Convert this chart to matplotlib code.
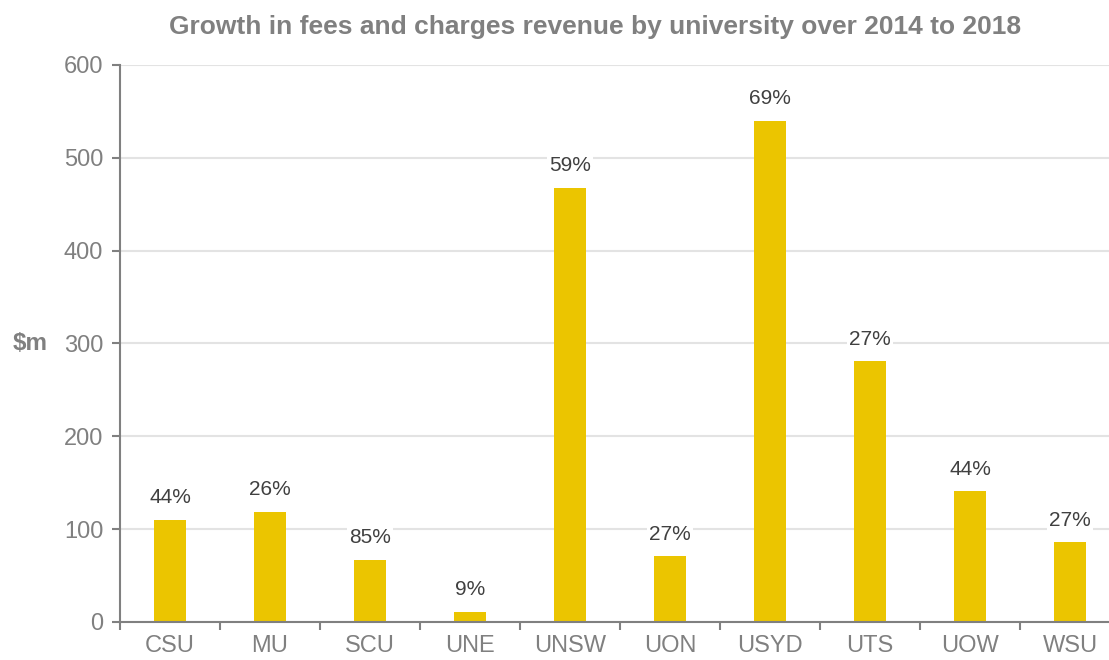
import numpy as np
import matplotlib.pyplot as plt

plt.rcParams['font.family'] = ['Liberation Sans', 'DejaVu Sans']

# Data
universities = ['CSU', 'MU', 'SCU', 'UNE', 'UNSW', 'UON', 'USYD', 'UTS', 'UOW', 'WSU']
growth_m = [110, 119, 67, 11, 468, 71, 540, 281, 141, 86]
growth_pct = ['44%', '26%', '85%', '9%', '59%', '27%', '69%', '27%', '44%', '27%']

bar_color = '#EBC500'
grey = '#808080'

fig = plt.figure(figsize=(11.09, 6.6), dpi=100)
# axes runs a little past the right edge of the image, as in the original
ax = fig.add_axes([120 / 1109, 1 - 622 / 660, 1000 / 1109, (622 - 65) / 660])

x = np.arange(len(universities))
bars = ax.bar(x, growth_m, width=0.32, color=bar_color, zorder=2)

for b, lbl in zip(bars, growth_pct):
    ax.annotate(lbl, (b.get_x() + b.get_width() / 2, b.get_height()),
                xytext=(0, 9), textcoords='offset points',
                ha='center', va='bottom', fontsize=15, color='#404040', zorder=3,
                bbox=dict(facecolor='white', edgecolor='none', pad=1.5))

ax.set_ylim(0, 600)
ax.set_xlim(-0.5, 9.5)
ax.set_yticks(range(0, 601, 100))
ax.yaxis.grid(True, color='#e3e3e3', linewidth=1.5, zorder=0)
ax.set_axisbelow(True)

# category labels centred, tick marks between categories
ax.set_xticks(x)
ax.set_xticklabels(universities)
ax.set_xticks(np.arange(-0.5, 10, 1), minor=True)
ax.tick_params(axis='x', which='major', length=0, pad=9, labelsize=17, labelcolor=grey)
ax.tick_params(axis='x', which='minor', length=6, width=1.5, color=grey)
ax.tick_params(axis='y', length=6, width=1.5, color=grey, labelsize=17, labelcolor=grey, pad=6)

for s in ['top', 'right']:
    ax.spines[s].set_visible(False)
for s in ['left', 'bottom']:
    ax.spines[s].set_color(grey)
    ax.spines[s].set_linewidth(1.5)

fig.text(13 / 1109, 1 - 343 / 660, '$m', fontsize=17.5, fontweight='bold', color=grey,
         va='center', ha='left')
fig.text(595 / 1109, 1 - 27 / 660, 'Growth in fees and charges revenue by university over 2014 to 2018',
         fontsize=19, fontweight='bold', color=grey, ha='center', va='center')

fig.savefig('out.png', dpi=100)
